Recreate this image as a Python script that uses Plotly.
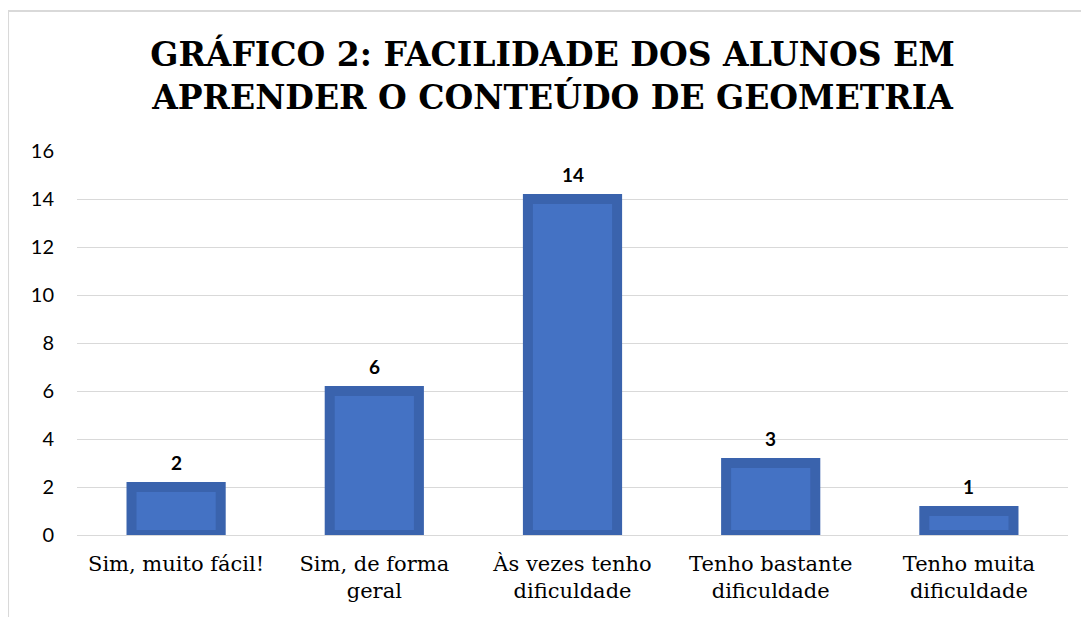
import plotly.graph_objects as go

categories = ["Sim, muito fácil!", "Sim, de forma<br>geral", "Às vezes tenho<br>dificuldade",
              "Tenho bastante<br>dificuldade", "Tenho muita<br>dificuldade"]
values = [2, 6, 14, 3, 1]
y_ticks = [0, 2, 4, 6, 8, 10, 12, 14, 16]
title_text = "GRÁFICO 2: FACILIDADE DOS ALUNOS EM<br>APRENDER O CONTEÚDO DE GEOMETRIA"

SERIF = "DejaVu Serif"
SANS = "Lato, Carlito, Calibri, sans-serif"

fig = go.Figure()
fig.add_trace(go.Bar(
    x=categories, y=values, width=0.45,
    marker=dict(color="#4472C4", line=dict(color="#3A63AD", width=10)),
    hoverinfo="x+y",
))
for c, v in zip(categories, values):
    fig.add_annotation(x=c, y=v, text="<b>%d</b>" % v, showarrow=False, yshift=25,
                       font=dict(family=SANS, size=19, color="#000000"))

grid = "#D9D9D9"
fig.update_layout(
    width=1089, height=617,
    margin=dict(l=69, r=29, t=143, b=90),
    paper_bgcolor="white", plot_bgcolor="white",
    showlegend=False,
    title=dict(text="<b>" + title_text + "</b>", x=0.5, xanchor="center", xref="container",
               y=0.906, yanchor="top", yref="container",
               font=dict(family=SERIF, size=33, color="#000000")),
    xaxis=dict(showgrid=False, showline=False, ticks="", zeroline=False,
               tickfont=dict(family=SERIF, size=21, color="#000000"),
               ticklabelstandoff=14),
    yaxis=dict(range=[0, 16], tickvals=y_ticks, showgrid=True, gridcolor=grid, gridwidth=1,
               zeroline=True, zerolinecolor=grid, zerolinewidth=1, showline=False, ticks="",
               tickfont=dict(family=SANS, size=20, color="#000000"),
               ticklabelstandoff=22),
    bargap=0.5,
)
# chart border (top and left edges of the chart area)
fig.add_shape(type="line", xref="paper", yref="paper", x0=-0.0696, x1=1.05, y0=1.3646, y1=1.3646,
              line=dict(color=grid, width=2))
fig.add_shape(type="line", xref="paper", yref="paper", x0=-0.0696, x1=-0.0696, y0=1.3646, y1=-0.3,
              line=dict(color=grid, width=2))

fig.write_html("out.html")
